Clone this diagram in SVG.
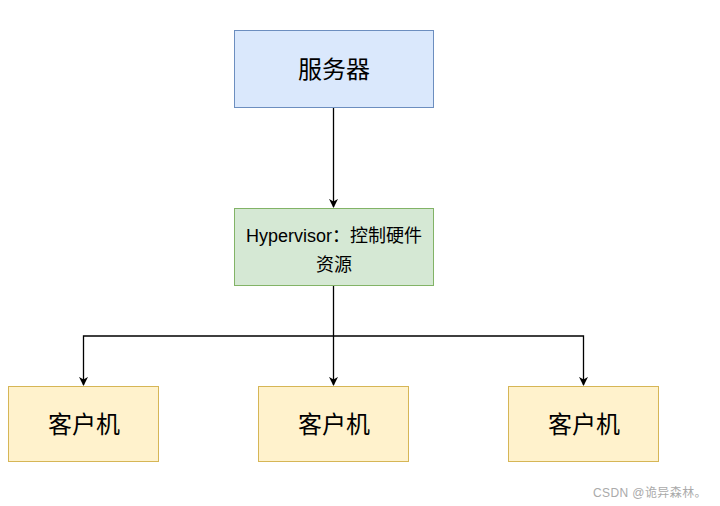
<svg xmlns="http://www.w3.org/2000/svg" width="720" height="506" viewBox="0 0 720 506">
<style>
text{font-family:"Liberation Sans","Noto Sans CJK SC",sans-serif;fill:#000;text-anchor:middle;dominant-baseline:central}
.big{font-size:24px}
.mid{font-size:18px}
.client rect{fill:#fff2cc;stroke:#d6b656;stroke-width:1}
.conn{fill:none;stroke:#000;stroke-width:1.3}
</style>
<defs>
<marker id="arr" viewBox="0 0 10 10" refX="9" refY="5" markerWidth="9" markerHeight="9" markerUnits="userSpaceOnUse" orient="auto"><path d="M0,0 L10,5 L0,10 L3,5 Z" fill="#000"/></marker>
</defs>
<rect width="720" height="506" fill="#fff"/>
<g id="server"><rect x="234.5" y="30.5" width="199" height="77" fill="#dae8fc" stroke="#6c8ebf"/><text class="big" x="334" y="69">服务器</text></g>
<g id="hypervisor"><rect x="234.5" y="208.5" width="199" height="77" fill="#d5e8d4" stroke="#82b366"/><text class="mid" x="334" y="236">Hypervisor：控制硬件</text><text class="mid" x="334" y="265">资源</text></g>
<g id="client1" class="client"><rect x="8.5" y="386.5" width="150" height="75"/><text class="big" x="84" y="424">客户机</text></g>
<g id="client2" class="client"><rect x="258.5" y="386.5" width="150" height="75"/><text class="big" x="334" y="424">客户机</text></g>
<g id="client3" class="client"><rect x="508.5" y="386.5" width="150" height="75"/><text class="big" x="584" y="424">客户机</text></g>
<g id="connectors">
<path class="conn" d="M333.5,108 V207" marker-end="url(#arr)"/>
<path class="conn" d="M333.5,286 V385" marker-end="url(#arr)"/>
<path class="conn" d="M333.5,336 H83.5 V385" marker-end="url(#arr)" stroke="#444"/>
<path class="conn" d="M333.5,336 H583.5 V385" marker-end="url(#arr)" stroke="#444"/>
</g>
<text x="650" y="493" style="font-size:12px;fill:#aaa;letter-spacing:0.4px">CSDN @诡异森林。</text>
</svg>
